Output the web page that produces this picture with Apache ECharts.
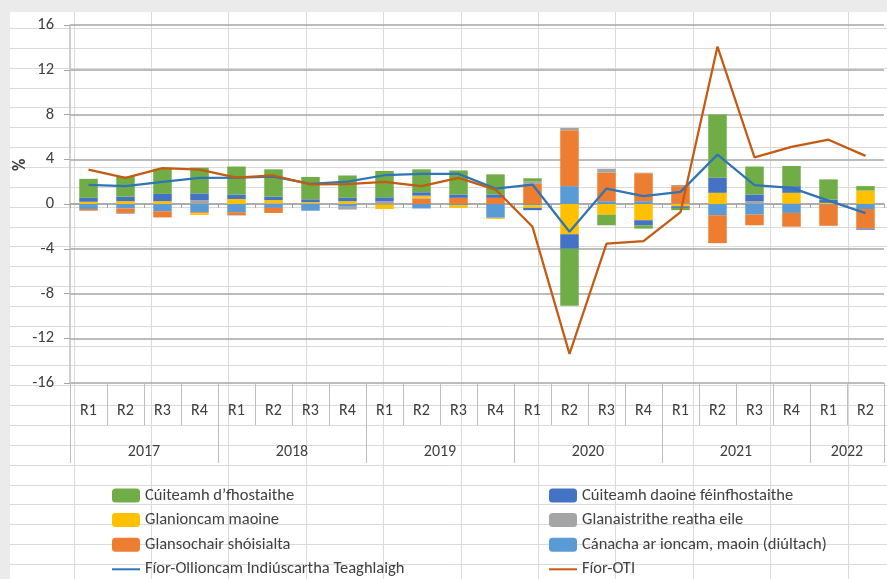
<!DOCTYPE html>
<html><head><meta charset="utf-8">
<script src="https://cdn.jsdelivr.net/npm/echarts@6/dist/echarts.min.js"></script>
<style>html,body{margin:0;padding:0;background:#fff}#c{width:887px;height:579px}</style>
</head><body><div id="c"></div>
<script>
// ---- data ----
const quarters = ['R1','R2','R3','R4','R1','R2','R3','R4','R1','R2','R3','R4','R1','R2','R3','R4','R1','R2','R3','R4','R1','R2'];
const years = ['2017','2018','2019','2020','2021','2022'];
const quartersPerYear = [4,4,4,4,4,2];
const yMin = -16, yMax = 16, yStep = 4;

const employeeComp   = [1.7,1.8,2.25,2.3,2.5,2.45,2.0,2.0,2.35,2.05,2.15,1.8,0.3,-5.1,-0.95,-0.3,-0.2,5.65,2.5,1.8,1.8,0.4];
const selfEmployed   = [0.35,0.4,0.65,0.6,0.4,0.3,0.25,0.3,0.35,0.3,0.3,0.3,-0.2,-1.3,0,-0.45,-0.15,1.35,0.6,0.6,0.3,-0.1];
const propertyIncome = [0.2,0.25,0.25,-0.15,0.45,0.3,0.12,0.25,-0.4,0.2,-0.25,-0.1,-0.25,-2.7,-0.95,-1.45,-0.2,1.0,0,0.95,0.1,1.2];
const otherTransfers = [0,-0.08,0,0.35,-0.05,0.05,0.05,-0.25,0.2,0.05,0,0,0.2,0.2,0.35,0.05,0.1,0,0.25,0.05,0,0];
const socialBenefits = [-0.15,-0.4,-0.55,-0.1,-0.25,-0.45,0,0,0.05,0.5,0.55,0.55,1.8,5.0,2.55,2.5,1.55,-2.5,-0.95,-1.23,-1.9,-1.75];
const incomeTaxes    = [-0.45,-0.4,-0.65,-0.73,-0.73,-0.35,-0.6,-0.25,-0.05,-0.4,-0.1,-1.23,-0.1,1.6,0.25,0.25,0.05,-1.0,-0.95,-0.8,-0.05,-0.45];
const realGDHI       = [1.7,1.6,1.98,2.33,2.35,2.45,1.8,2.0,2.57,2.69,2.69,1.38,1.74,-2.48,1.38,0.7,1.08,4.41,1.68,1.44,0.3,-0.82];
const realGNI        = [3.07,2.33,3.2,3.07,2.35,2.55,1.75,1.78,1.98,1.6,2.33,1.29,-2.04,-13.4,-3.55,-3.31,-0.73,14.07,4.17,5.1,5.75,4.3];

const names = {
  emp: 'Cúiteamh d’fhostaithe',
  self: 'Cúiteamh daoine féinfhostaithe',
  prop: 'Glanioncam maoine',
  other: 'Glanaistrithe reatha eile',
  soc: 'Glansochair shóisialta',
  tax: 'Cánacha ar ioncam, maoin (diúltach)',
  gdhi: 'Fíor-Ollioncam Indiúscartha Teaghlaigh',
  gni: 'Fíor-OTI'
};
const colors = {emp:'#70AD47', self:'#4472C4', prop:'#FFC000', other:'#A5A5A5', soc:'#ED7D31', tax:'#5B9BD5', gdhi:'#2E75B6', gni:'#C55A11'};

// ---- chart ----
const FONT = "Carlito, 'Liberation Sans', Arial, sans-serif";
const TXT = '#404040';
const chart = echarts.init(document.getElementById('c'), null, {renderer:'canvas'});

const yearCentre = {};
let acc = 0;
years.forEach((y,i)=>{ yearCentre[acc + quartersPerYear[i]/2] = y; acc += quartersPerYear[i]; });
const nQ = quarters.length;

// background spreadsheet cells (decoration)
const deco = [];
deco.push({type:'rect', shape:{x:0,y:0,width:887,height:12}, style:{fill:'#ebebeb'}, z:-20, silent:true});
deco.push({type:'rect', shape:{x:0,y:0,width:10,height:579}, style:{fill:'#ebebeb'}, z:-20, silent:true});
for (let k=0;k<28;k++){ const yy = Math.round(28 + k*19.85)+0.5;
  deco.push({type:'line', shape:{x1:10,y1:yy,x2:887,y2:yy}, style:{stroke:'#dadada', lineWidth:1}, z:-10, silent:true}); }
for (let k=0;k<11;k++){ const xx = Math.round(73.5 + k*77.4)+0.5;
  deco.push({type:'line', shape:{x1:xx,y1:12,x2:xx,y2:579}, style:{stroke:'#dadada', lineWidth:1}, z:-10, silent:true}); }
deco.push({type:'text', x:12, y:171, rotation:Math.PI/2, style:{text:'%', font:'bold 17px '+FONT, fill:TXT}, z:5});

function bar(key, data){ return {name:names[key], type:'bar', stack:'s', data:data, barCategoryGap:'50%',
  itemStyle:{color:colors[key]}, xAxisIndex:0, yAxisIndex:0, z:2}; }
function line(key, data){ return {name:names[key], type:'line', data:data, symbol:'none',
  lineStyle:{color:colors[key], width:2.25}, itemStyle:{color:colors[key]}, xAxisIndex:0, yAxisIndex:0, z:4}; }

const legendCommon = {orient:'vertical', padding:0, itemWidth:28, itemHeight:14, itemGap:7.6,
  textStyle:{fontSize:16.5, lineHeight:17, color:TXT, fontFamily:FONT}, selectedMode:false};
const lineItem = (n)=>({name:n, itemStyle:{opacity:0}});

chart.setOption({
  animation:false,
  backgroundColor:'transparent',
  textStyle:{fontFamily:FONT},
  graphic: deco,
  grid:{left:70, top:25, width:821, height:358, containLabel:false},
  legend:[
    Object.assign({left:111, top:487, data:[names.emp, names.prop, names.soc, lineItem(names.gdhi)]}, legendCommon),
    Object.assign({left:548, top:487, data:[names.self, names.other, names.tax, lineItem(names.gni)]}, legendCommon)
  ],
  xAxis:[
    {type:'category', data:quarters, boundaryGap:true, position:'bottom',
     axisLine:{show:true, onZero:true, lineStyle:{color:'#a6a6a6', width:1.5}},
     axisTick:{show:true, interval:0, length:4, lineStyle:{color:'#a6a6a6'}},
     axisLabel:{show:false}, splitLine:{show:false}},
    {type:'category', data:quarters, boundaryGap:true, position:'bottom',
     axisLine:{show:false, onZero:false},
     axisTick:{show:true, interval:0, length:42, lineStyle:{color:'#bfbfbf'}},
     axisLabel:{show:true, interval:0, margin:20, fontSize:16, color:TXT, fontFamily:FONT},
     splitLine:{show:false}},
    {type:'value', min:0, max:nQ, interval:4, position:'bottom',
     axisLine:{show:false, onZero:false},
     axisTick:{show:true, length:80, lineStyle:{color:'#bfbfbf'}},
     axisLabel:{show:false}, splitLine:{show:false}},
    {type:'value', min:0, max:nQ, interval:1, position:'bottom',
     axisLine:{show:false, onZero:false}, axisTick:{show:false},
     axisLabel:{show:true, margin:61, fontSize:16, color:TXT, fontFamily:FONT,
       formatter:(v)=> yearCentre[v] || ''},
     splitLine:{show:false}}
  ],
  yAxis:[{type:'value', min:yMin, max:yMax, interval:yStep,
    axisLine:{show:true, lineStyle:{color:'#bfbfbf', width:1.5}},
    axisTick:{show:true, length:6, lineStyle:{color:'#a6a6a6'}},
    axisLabel:{fontSize:16.5, color:TXT, margin:16, fontFamily:FONT},
    splitLine:{show:true, lineStyle:{color:'#a6a6a6', width:1.5}}}],
  series:[
    bar('tax', incomeTaxes),
    bar('soc', socialBenefits),
    bar('other', otherTransfers),
    bar('prop', propertyIncome),
    bar('self', selfEmployed),
    bar('emp', employeeComp),
    line('gdhi', realGDHI),
    line('gni', realGNI)
  ]
});
</script></body></html>
